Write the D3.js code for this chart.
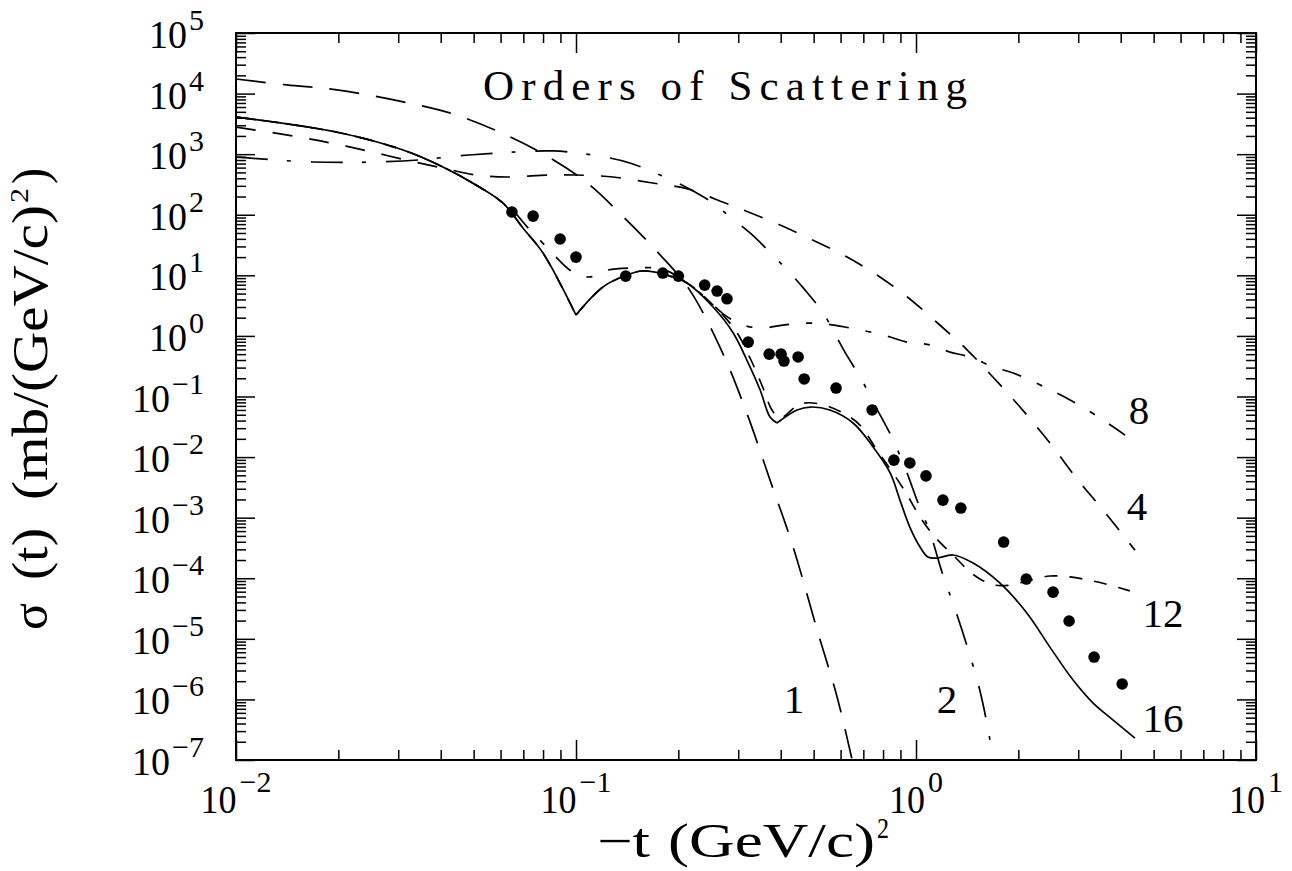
<!DOCTYPE html>
<html lang="en">
<head>
<meta charset="utf-8">
<title>Orders of Scattering</title>
<script src="https://cdn.jsdelivr.net/npm/d3@7"></script>
<style>
  body { margin: 0; background: #fff; }
  svg { display: block; }
  text { font-family: "Liberation Serif", "Times New Roman", serif; fill: #000; }
</style>
</head>
<body>
<svg id="chart" width="1292" height="871"></svg>
<script>
// ---- data: -t in (GeV/c)^2, sigma in mb/(GeV/c)^2 ----
var t1 = [0.01, 0.0141, 0.0198, 0.0303, 0.0425, 0.0597, 0.0811, 0.108, 0.139, 0.177, 0.216, 0.270, 0.318, 0.372, 0.435, 0.512, 0.586, 0.649];
var s1 = [1.74e4, 1.39e4, 1.15e4, 7.5e3, 4.8e3, 2.3e3, 970, 334, 88, 21.6, 5.7, 0.52, 0.053, 4.2e-3, 3.3e-4, 1.4e-5, 1.1e-6, 1.0e-7];

var t2 = [0.01, 0.0168, 0.031, 0.0484, 0.0675, 0.0856, 0.112, 0.144, 0.185, 0.213, 0.253, 0.284, 0.325, 0.379, 0.426, 0.466, 0.533, 0.618, 0.693, 0.748, 0.84, 0.929, 1.014, 1.10, 1.20, 1.30, 1.41, 1.54, 1.65, 1.68];
var s2 = [900, 743, 771, 968, 1090, 1130, 968, 715, 404, 276, 156, 92, 50, 21.6, 10.9, 6.2, 2.39, 0.54, 0.187, 0.081, 0.024, 6.6e-3, 1.75e-3, 5.6e-4, 1.13e-4, 3.2e-5, 7.9e-6, 1.43e-6, 2.13e-7, 1.0e-7];

var t4 = [0.01, 0.0147, 0.019, 0.0244, 0.0316, 0.0406, 0.0508, 0.0631, 0.0828, 0.1, 0.1285, 0.168, 0.213, 0.270, 0.310, 0.393, 0.498, 0.627, 0.783, 0.959, 1.177, 1.413, 1.683, 2.023, 2.477, 2.992, 3.548, 4.406];
var s4 = [2800, 2000, 1530, 1130, 800, 590, 453, 420, 453, 453, 420, 334, 266, 162, 120, 70, 38, 20, 9.4, 4.07, 1.5, 0.59, 0.21, 0.067, 0.0171, 4.2e-3, 1.34e-3, 2.9e-4];

var t8 = [0.01, 0.0197, 0.031, 0.0406, 0.0508, 0.061, 0.0662, 0.0718, 0.0784, 0.0873, 0.098, 0.11, 0.124, 0.147, 0.171, 0.189, 0.212, 0.239, 0.274, 0.310, 0.355, 0.406, 0.478, 0.547, 0.640, 0.733, 0.84, 0.942, 1.10, 1.26, 1.44, 1.68, 1.93, 2.32, 2.84, 3.48, 4.12];
var s8 = [4100, 2320, 1170, 614, 310, 156, 107, 63, 38, 20, 11.3, 9.4, 12.2, 13.2, 13.2, 11.3, 7.5, 4.4, 2.2, 1.51, 1.35, 1.51, 1.63, 1.57, 1.35, 1.16, 0.96, 0.79, 0.71, 0.54, 0.45, 0.31, 0.244, 0.155, 0.0875, 0.044, 0.023];

var t12 = [0.01, 0.0197, 0.031, 0.0406, 0.0508, 0.061, 0.0698, 0.08, 0.1, 0.12, 0.141, 0.157, 0.185, 0.212, 0.253, 0.294, 0.325, 0.355, 0.377, 0.398, 0.456, 0.522, 0.610, 0.684, 0.767, 0.855, 0.942, 1.028, 1.137, 1.302, 1.442, 1.563, 1.706, 1.888, 2.163, 2.477, 2.838, 3.319, 3.724, 4.256];
var s12 = [4100, 2320, 1170, 614, 310, 156, 60.4, 23.3, 2.21, 6.41, 10.1, 11.8, 10.1, 7.46, 3.24, 1.25, 0.432, 0.138, 0.0598, 0.0441, 0.0752, 0.0752, 0.0533, 0.0338, 0.0131, 5.5e-3, 2.37e-3, 1.02e-3, 4.8e-4, 2.24e-4, 1.27e-4, 9.3e-5, 7.7e-5, 7.7e-5, 9.3e-5, 1.09e-4, 1.05e-4, 9.0e-5, 7.7e-5, 6.2e-5];

var t16 = [0.01, 0.0197, 0.031, 0.0406, 0.0508, 0.061, 0.0698, 0.08, 0.1, 0.12, 0.141, 0.157, 0.185, 0.212, 0.253, 0.29, 0.318, 0.348, 0.372, 0.39, 0.447, 0.488, 0.558, 0.653, 0.748, 0.84, 0.897, 0.959, 1.028, 1.084, 1.153, 1.285, 1.472, 1.766, 2.118, 2.477, 2.897, 3.319, 3.793, 4.406];
var s16 = [4100, 2320, 1170, 614, 310, 156, 60.4, 23.3, 2.21, 6.41, 10.1, 11.8, 10.1, 7.46, 3.0, 1.12, 0.40, 0.128, 0.0458, 0.0365, 0.0598, 0.067, 0.0598, 0.0365, 0.0147, 5.46e-3, 1.95e-3, 7.0e-4, 3.27e-4, 2.24e-4, 2.16e-4, 2.42e-4, 1.78e-4, 8.3e-5, 2.67e-5, 7.3e-6, 2.09e-6, 8.7e-7, 4.6e-7, 2.3e-7];

// measured points
var tData = [0.0648, 0.0748, 0.0898, 0.100, 0.140, 0.180, 0.200, 0.239, 0.260, 0.278, 0.321, 0.370, 0.401, 0.409, 0.450, 0.469, 0.582, 0.743, 0.861, 0.959, 1.07, 1.20, 1.355, 1.81, 2.11, 2.53, 2.82, 3.34, 4.04];
var sData = [111, 95, 39.8, 20, 9.7, 10.9, 9.7, 6.9, 5.5, 4.1, 0.79, 0.50, 0.50, 0.385, 0.45, 0.195, 0.138, 0.060, 8.9e-3, 8.0e-3, 4.9e-3, 1.95e-3, 1.44e-3, 3.96e-4, 9.7e-5, 5.9e-5, 1.97e-5, 5.0e-6, 1.8e-6];

var orderNames = ["1", "2", "4", "8", "12", "16"];
var xExp = [-2, -1, 0, 1];
var yExp = [5, 4, 3, 2, 1, 0, -1, -2, -3, -4, -5, -6, -7];

var svg = d3.select("#chart");

var x = d3.scaleLog().domain([1e-2, 1e1]).range([236, 1256]);
var y = d3.scaleLog().domain([1e-7, 1e5]).range([760, 33]);

// ---- ticks (inward, all four sides) ----
var xMajor = xExp.map(function(e) { return Math.pow(10, e); });
var yMajor = yExp.map(function(e) { return Math.pow(10, e); });
var xMinor = [], yMinor = [];
for (var e = -2; e < 1; e++) for (var m = 2; m < 10; m++) xMinor.push(m * Math.pow(10, e));
for (var e = -7; e < 5; e++) for (var m = 2; m < 10; m++) yMinor.push(m * Math.pow(10, e));

function tickSet(axis, vals, size, tr) {
  svg.append("g")
    .attr("transform", tr)
    .call(axis.tickValues(vals).tickSizeInner(size).tickSizeOuter(0).tickFormat(""))
    .call(function(g) { g.select(".domain").remove(); })
    .selectAll("line").attr("stroke", "#000").attr("stroke-width", 1.5);
}
tickSet(d3.axisBottom(x), xMajor, -20, "translate(0,760)");
tickSet(d3.axisBottom(x), xMinor, -10, "translate(0,760)");
tickSet(d3.axisTop(x), xMajor, -20, "translate(0,33)");
tickSet(d3.axisTop(x), xMinor, -10, "translate(0,33)");
tickSet(d3.axisLeft(y), yMajor, -19, "translate(236,0)");
tickSet(d3.axisLeft(y), yMinor, -10, "translate(236,0)");
tickSet(d3.axisRight(y), yMajor, -19, "translate(1256,0)");
tickSet(d3.axisRight(y), yMinor, -10, "translate(1256,0)");

svg.append("rect")
  .attr("x", 236).attr("y", 33).attr("width", 1020).attr("height", 727)
  .attr("fill", "none").attr("stroke", "#000").attr("stroke-width", 2);

// ---- tick labels: 10 with superscript exponent ----
function expText(e) { return e < 0 ? "\u2212" + (-e) : String(e); }

yExp.forEach(function(e) {
  var yy = y(Math.pow(10, e));
  var sup = svg.append("text")
    .attr("x", 204).attr("y", yy - 3)
    .attr("text-anchor", "end")
    .style("font-size", "30px")
    .text(expText(e));
  var w = sup.node().getComputedTextLength();
  svg.append("text")
    .attr("x", 204 - w - 2).attr("y", yy + 15)
    .attr("text-anchor", "end")
    .attr("textLength", 38).attr("lengthAdjust", "spacingAndGlyphs")
    .style("font-size", "41px")
    .text("10");
});

xExp.forEach(function(e) {
  var xx = x(Math.pow(10, e));
  var sup = svg.append("text")
    .attr("y", 792)
    .style("font-size", "30px")
    .text(expText(e));
  var w = sup.node().getComputedTextLength();
  var x0 = xx - (36 + 3 + w) / 2;
  sup.attr("x", x0 + 39);
  svg.append("text")
    .attr("x", x0).attr("y", 813)
    .attr("textLength", 36).attr("lengthAdjust", "spacingAndGlyphs")
    .style("font-size", "41px")
    .text("10");
});

// ---- axis titles ----
var yl = svg.append("g").attr("transform", "rotate(-90)");
function part(g, txt, lx, ly, len, size) {
  return g.append("text")
    .attr("x", lx).attr("y", ly)
    .attr("textLength", len).attr("lengthAdjust", "spacingAndGlyphs")
    .style("font-size", size + "px")
    .text(txt);
}
part(yl, "\u03c3", -630, 47, 27, 50);
part(yl, "(t)", -580, 47, 52, 50);
part(yl, "(mb/(GeV/c)", -500, 47, 295, 50);
part(yl, "2", -203, 28, 15, 26);
part(yl, ")", -184, 47, 16, 50);

part(svg, "\u2212t", 597, 857, 53, 48);
part(svg, "(GeV/c)", 668, 857, 207, 48);
part(svg, "2", 877, 838, 12, 30);

svg.append("text")
  .attr("x", 483).attr("y", 100)
  .attr("textLength", 484).attr("lengthAdjust", "spacing")
  .style("font-size", "43px")
  .text("Orders of Scattering");

// ---- curves ----
svg.append("clipPath").attr("id", "plotclip")
  .append("rect").attr("x", 236).attr("y", 33).attr("width", 1020).attr("height", 727);

// cusp: indices where the curve has a sharp minimum (smooth pieces meet there)
var series = [
  { t: t1, s: s1, dash: "30,17", cusp: [] },
  { t: t2, s: s2, dash: "32,19,4,20", cusp: [] },
  { t: t4, s: s4, dash: "20,17", cusp: [] },
  { t: t8, s: s8, dash: "20,17,6,17", cusp: [] },
  { t: t12, s: s12, dash: "13,12", cusp: [8] },
  { t: t16, s: s16, dash: null, cusp: [8, 19] }
];

var line = d3.line()
  .x(function(d) { return x(d[0]); })
  .y(function(d) { return y(d[1]); })
  .curve(d3.curveCatmullRom.alpha(0.5));

function pathFor(d) {
  var pts = d3.zip(d.t, d.s);
  var cuts = [0].concat(d.cusp, [pts.length - 1]);
  var out = "";
  for (var i = 0; i < cuts.length - 1; i++) {
    out += line(pts.slice(cuts[i], cuts[i + 1] + 1));
  }
  return out;
}

var plot = svg.append("g").attr("clip-path", "url(#plotclip)");
plot.selectAll("path.order")
  .data(series)
  .enter().append("path")
  .attr("class", "order")
  .attr("d", pathFor)
  .attr("fill", "none")
  .attr("stroke", "#000")
  .attr("stroke-width", 1.7)
  .attr("stroke-dasharray", function(d) { return d.dash; });

plot.selectAll("circle")
  .data(d3.zip(tData, sData))
  .enter().append("circle")
  .attr("cx", function(d) { return x(d[0]); })
  .attr("cy", function(d) { return y(d[1]); })
  .attr("r", 5.8)
  .attr("fill", "#000");

// ---- order labels next to curve ends ----
var labelPos = [[794, 713], [947, 713], [1137, 520], [1139, 424], [1163, 627], [1163, 732]];
orderNames.forEach(function(n, i) {
  svg.append("text")
    .attr("x", labelPos[i][0]).attr("y", labelPos[i][1])
    .attr("text-anchor", "middle")
    .style("font-size", "41px")
    .text(n);
});
</script>
</body>
</html>
